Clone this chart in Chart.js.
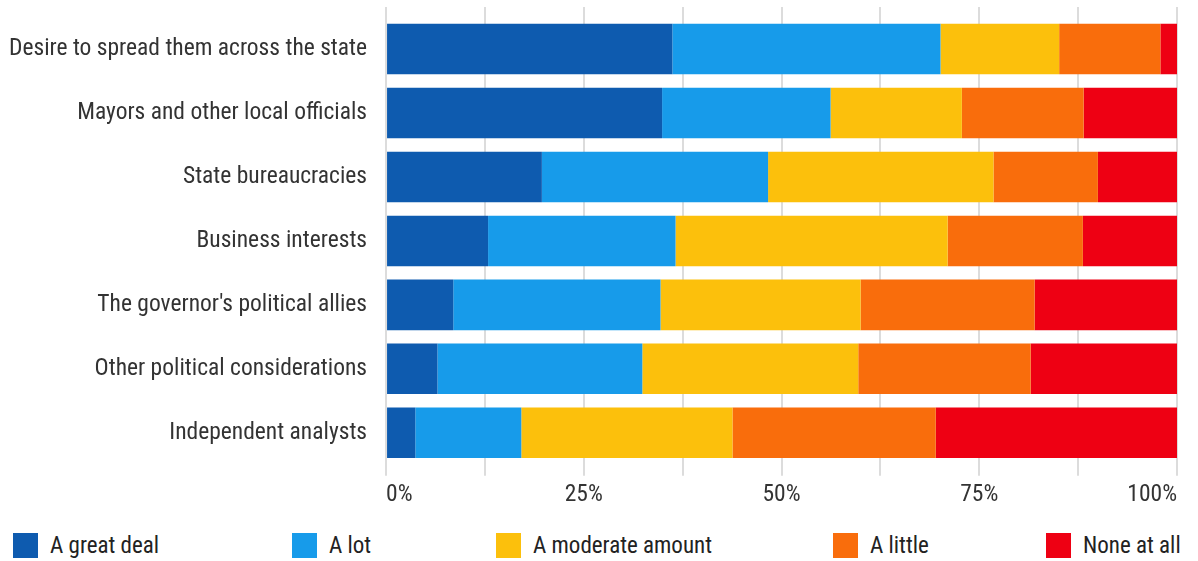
<!DOCTYPE html>
<html>
<head>
<meta charset="utf-8">
<script src="https://cdn.jsdelivr.net/npm/chart.js@4"></script>
<style>
  body { margin: 0; background: #fff; font-family: "Roboto Condensed", Roboto, sans-serif; }
  #wrap { position: relative; width: 1198px; height: 514px; }
  #legend { position: relative; width: 1198px; height: 25px; margin-top: 19px; }
  .item { position: absolute; top: 0; display: flex; align-items: center; font-size: 23px; line-height: 25px; color: #222; white-space: nowrap; }
  .item:nth-child(1) { left: 13px; }
  .item:nth-child(2) { left: 292px; }
  .item:nth-child(3) { left: 496px; }
  .item:nth-child(4) { left: 833px; }
  .item:nth-child(5) { left: 1046px; }
  .box { width: 25px; height: 25px; margin-right: 12px; }
</style>
</head>
<body>
<div id="wrap"><canvas id="MyChart"></canvas></div>
<div id="legend"></div>
<script>
var labels = [
  'Desire to spread them across the state',
  'Mayors and other local officials',
  'State bureaucracies',
  'Business interests',
  "The governor's political allies",
  'Other political considerations',
  'Independent analysts'
];
var seriesNames = ['A great deal', 'A lot', 'A moderate amount', 'A little', 'None at all'];
var colors = ['#0e5baf', '#179bea', '#fcc00c', '#f96d0c', '#ee0013'];

var greatDeal = [36.2, 34.9, 19.7, 12.9, 8.5, 6.5, 3.7];
var aLot      = [33.9, 21.3, 28.6, 23.7, 26.2, 25.9, 13.4];
var moderate  = [15.0, 16.6, 28.5, 34.4, 25.3, 27.3, 26.7];
var aLittle   = [12.8, 15.4, 13.2, 17.1, 22.0, 21.8, 25.7];
var noneAtAll = [2.2, 11.8, 10.0, 11.9, 18.0, 18.5, 30.5];

var tickValues = [0, 25, 50, 75, 100];

var values = [greatDeal, aLot, moderate, aLittle, noneAtAll];
var datasets = [];
for (var i = 0; i < seriesNames.length; i++) {
  datasets.push({
    label: seriesNames[i],
    data: values[i],
    backgroundColor: colors[i],
    borderWidth: 0,
    barPercentage: 1,
    categoryPercentage: 0.79
  });
}

// stretch the x grid lines a bit above the plot like in the original
var gridTop = {
  id: 'gridTop',
  beforeDatasetsDraw: function (chart) {
    var ctx = chart.ctx, x = chart.scales.x, top = chart.chartArea.top;
    ctx.save();
    ctx.strokeStyle = '#dcdcdc';
    ctx.lineWidth = 2;
    for (var v = 0; v <= 100; v += 12.5) {
      var px = Math.round(x.getPixelForValue(v));
      ctx.beginPath();
      ctx.moveTo(px, top - 10);
      ctx.lineTo(px, top);
      ctx.stroke();
    }
    ctx.restore();
  }
};

Chart.defaults.font.family = '"Roboto Condensed", Roboto, sans-serif';
Chart.defaults.color = '#333';

const myChart = new Chart(document.getElementById('MyChart'), {
  type: 'bar',
  data: { labels: labels, datasets: datasets },
  plugins: [gridTop],
  options: {
    indexAxis: 'y',
    responsive: true,
    maintainAspectRatio: false,
    animation: false,
    layout: { padding: { top: 17, right: 21, left: 0 } },
    plugins: { legend: { display: false }, tooltip: { enabled: false } },
    scales: {
      x: {
        stacked: true,
        min: 0,
        max: 100,
        afterBuildTicks: function (axis) {
          var t = [];
          for (var v = 0; v <= 100; v += 12.5) t.push({ value: v });
          axis.ticks = t;
        },
        afterFit: function (s) { s.paddingLeft = 0; s.paddingRight = 0; },
        border: { display: false },
        grid: { color: '#dcdcdc', lineWidth: 2, tickLength: 11 },
        ticks: {
          autoSkip: false,
          maxRotation: 0,
          align: 'inner',
          padding: 5,
          font: { size: 23.5 },
          color: '#333',
          callback: function (v) { return tickValues.indexOf(v) >= 0 ? v + '%' : ''; }
        }
      },
      y: {
        stacked: true,
        border: { display: false },
        grid: { display: false, drawTicks: false },
        afterFit: function (s) { s.paddingTop = 0; s.paddingBottom = 0; s.width -= 10; },
        ticks: { padding: 19, font: { size: 23.5 }, color: '#333' }
      }
    }
  }
});

var legend = document.getElementById('legend');
for (var j = 0; j < seriesNames.length; j++) {
  var item = document.createElement('div');
  item.className = 'item';
  item.innerHTML = '<span class="box" style="background:' + colors[j] + '"></span>' + seriesNames[j];
  legend.appendChild(item);
}
</script>
</body>
</html>
